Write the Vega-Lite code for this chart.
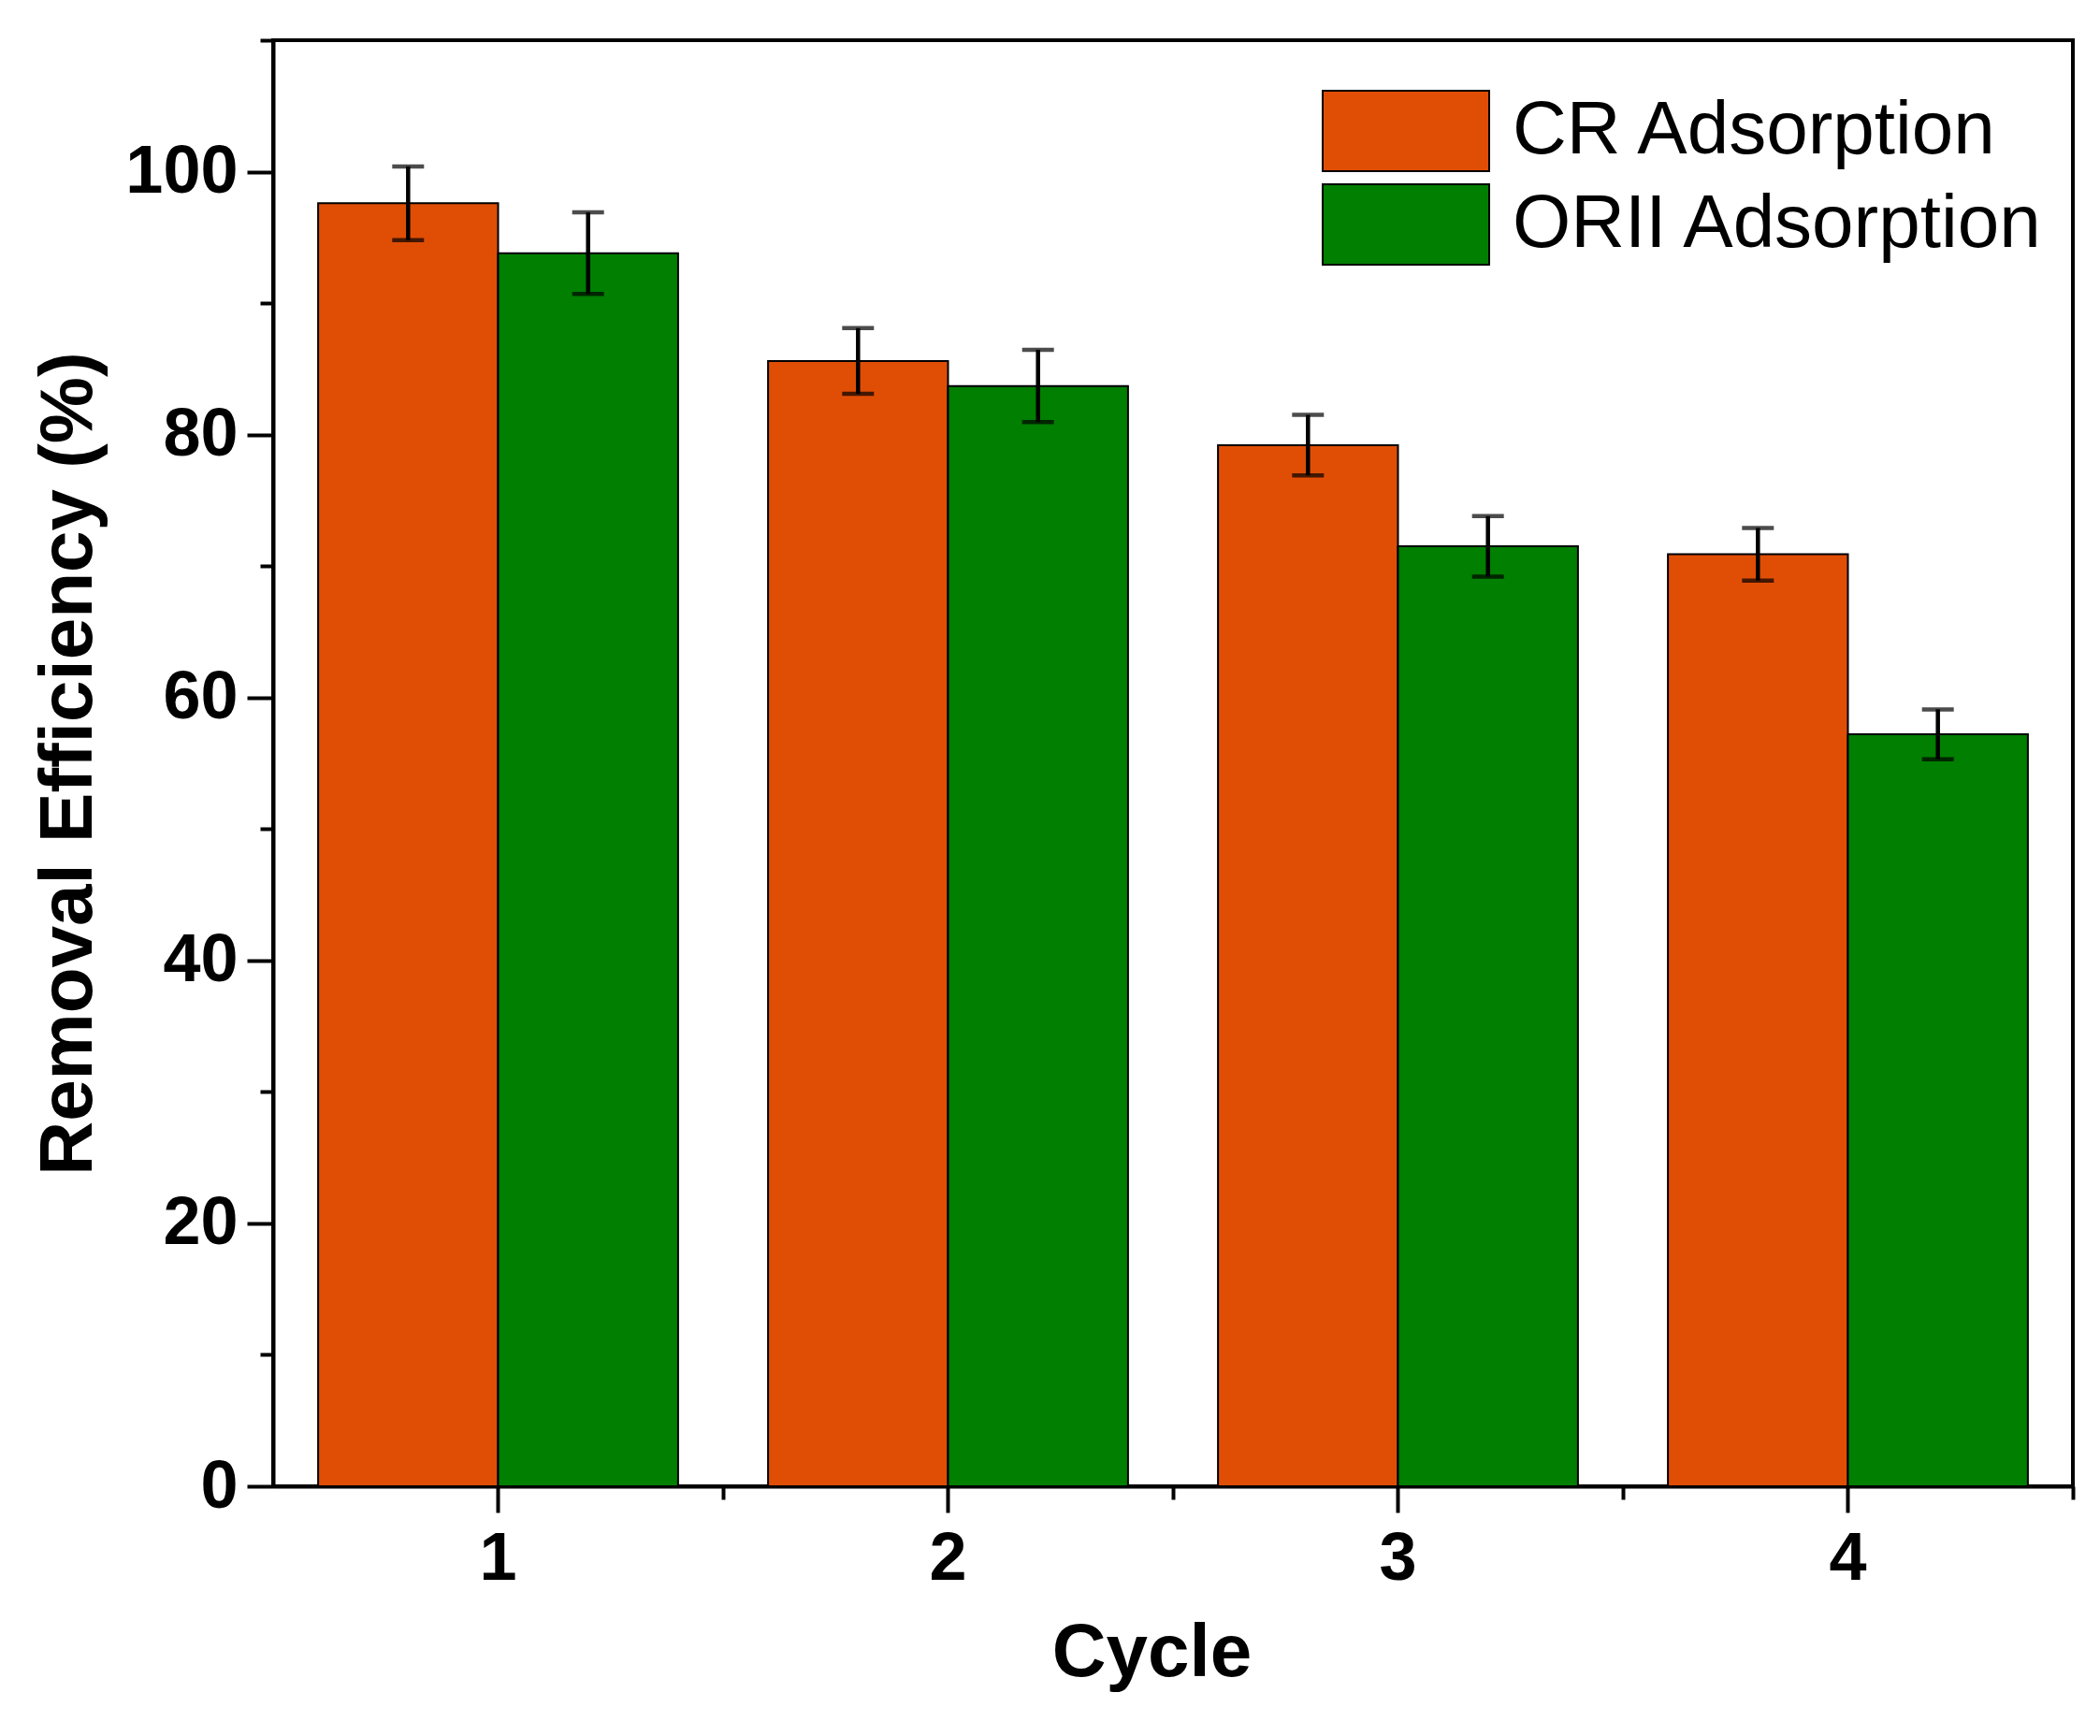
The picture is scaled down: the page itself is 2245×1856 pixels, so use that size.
{
  "$schema": "https://vega.github.io/schema/vega-lite/v6.json",
  "autosize": {"type": "none"},
  "width": 1924,
  "height": 1546,
  "padding": {"left": 292, "top": 43, "right": 29, "bottom": 267},
  "background": "white",
  "config": {
    "view": {"stroke": "black", "strokeWidth": 4},
    "axis": {
      "domainColor": "black", "domainWidth": 4,
      "tickColor": "black", "tickWidth": 4,
      "labelFont": "Liberation Sans", "labelFontWeight": "bold", "labelFontSize": 72, "labelColor": "black",
      "titleFont": "Liberation Sans", "titleFontWeight": "bold", "titleFontSize": 80, "titleColor": "black",
      "grid": false
    },
    "legend": {
      "labelFont": "Liberation Sans", "labelFontSize": 80, "labelColor": "black"
    }
  },
  "data": {
    "values": [
      {"cycle": "1", "series": "CR Adsorption", "value": 97.6, "err": 2.8},
      {"cycle": "1", "series": "ORII Adsorption", "value": 93.8, "err": 3.1},
      {"cycle": "2", "series": "CR Adsorption", "value": 85.6, "err": 2.5},
      {"cycle": "2", "series": "ORII Adsorption", "value": 83.7, "err": 2.75},
      {"cycle": "3", "series": "CR Adsorption", "value": 79.2, "err": 2.3},
      {"cycle": "3", "series": "ORII Adsorption", "value": 71.5, "err": 2.3},
      {"cycle": "4", "series": "CR Adsorption", "value": 70.9, "err": 2.0},
      {"cycle": "4", "series": "ORII Adsorption", "value": 57.2, "err": 1.9}
    ]
  },
  "layer": [
    {
      "mark": {"type": "bar", "stroke": "black", "strokeWidth": 2, "opacity": 1},
      "encoding": {
        "x": {
          "field": "cycle", "type": "ordinal",
          "scale": {"type": "band", "paddingInner": 0.2, "paddingOuter": 0.1},
          "axis": {"title": "Cycle", "labelAngle": 0, "tickSize": 28, "labelPadding": 14, "titlePadding": 26, "titleX": 939, "orient": "bottom"}
        },
        "xOffset": {"field": "series", "type": "nominal", "scale": {"paddingInner": 0, "paddingOuter": 0}},
        "y": {
          "field": "value", "type": "quantitative",
          "scale": {"domain": [0, 110], "nice": false, "zero": true},
          "axis": {"title": "Removal Efficiency (%)", "values": [0, 20, 40, 60, 80, 100], "tickSize": 28, "labelPadding": 10, "titlePadding": 19, "orient": "left"}
        },
        "color": {
          "field": "series", "type": "nominal",
          "scale": {"domain": ["CR Adsorption", "ORII Adsorption"], "range": ["#E04E05", "#007F00"]},
          "legend": {
            "title": null, "orient": "none", "legendX": 1167, "legendY": 53, "padding": 0,
            "symbolType": "M-2.07,-1H2.07V1H-2.07Z", "symbolSize": 7396,
            "symbolStrokeColor": "black", "symbolStrokeWidth": 2, "symbolOpacity": 1,
            "labelOffset": 70, "rowPadding": 6, "labelFontSize": 80, "labelLimit": 2000
          }
        }
      }
    },
    {
      "mark": {"type": "errorbar", "ticks": {"size": 34, "thickness": 4.5, "color": "black"}, "rule": {"strokeWidth": 4.5, "color": "black"}},
      "encoding": {
        "x": {
          "field": "cycle", "type": "ordinal",
          "axis": {"title": null, "labels": false, "domain": false, "tickSize": 14, "bandPosition": 1.125, "orient": "bottom"}
        },
        "xOffset": {"field": "series", "type": "nominal"},
        "y": {
          "field": "value", "type": "quantitative",
          "axis": {"title": null, "labels": false, "domain": false, "values": [10, 30, 50, 70, 90, 110], "tickSize": 14, "orient": "left"}
        },
        "yError": {"field": "err"}
      }
    }
  ],
  "resolve": {"axis": {"x": "independent", "y": "independent"}}
}
